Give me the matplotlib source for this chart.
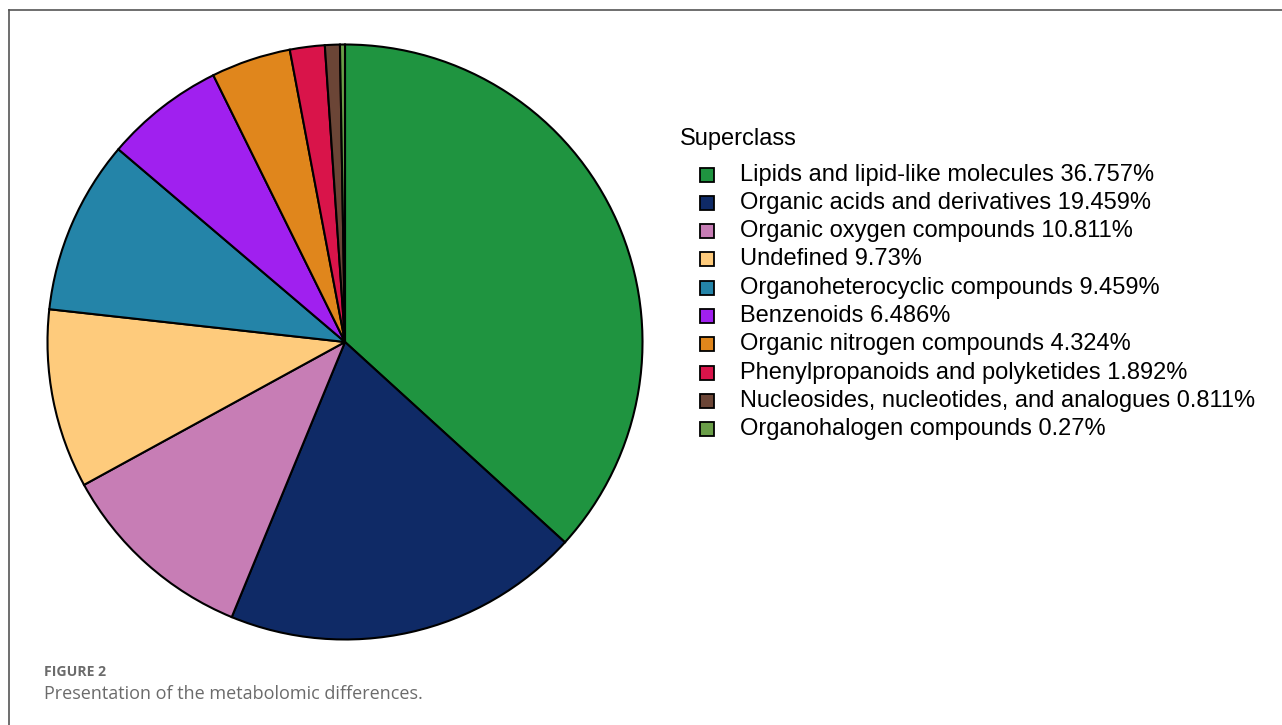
import numpy as np
import matplotlib.pyplot as plt
from matplotlib.patches import Rectangle
from matplotlib.lines import Line2D

W, H = 1282, 725

classes = ["Lipids and lipid-like molecules", "Organic acids and derivatives",
           "Organic oxygen compounds", "Undefined", "Organoheterocyclic compounds",
           "Benzenoids", "Organic nitrogen compounds", "Phenylpropanoids and polyketides",
           "Nucleosides, nucleotides, and analogues", "Organohalogen compounds"]
percent = [36.757, 19.459, 10.811, 9.73, 9.459, 6.486, 4.324, 1.892, 0.811, 0.27]
colors = ["#1f9440", "#0f2a66", "#c77db5", "#fecb7c", "#2484a8",
          "#a020ef", "#e0861c", "#d9144a", "#6b4536", "#6a9e48"]


def fx(px):
    return px / W


def fy(py):
    return 1 - py / H


fig = plt.figure(figsize=(W / 100, H / 100), dpi=100)

# frame lines along the top and left
fig.add_artist(Line2D([fx(9), 1], [fy(10), fy(10)], color="#555555", lw=1.2))
fig.add_artist(Line2D([fx(9), fx(9)], [fy(10), 0], color="#555555", lw=1.2))

# pie
cx, cy, r = 345, 342, 297.5
ax = fig.add_axes([fx(cx - r), fy(cy + r), fx(2 * r), (2 * r) / H])
ax.pie(percent, colors=colors, startangle=90, counterclock=False, radius=1,
       wedgeprops=dict(edgecolor="black", linewidth=1.5))
ax.set_xlim(-1, 1)
ax.set_ylim(-1, 1)
ax.set_aspect("equal")
ax.axis("off")

# legend
font = "Liberation Sans"
fig.text(fx(680), fy(139), "Superclass", fontsize=17, family=font, va="center", ha="left")
y0, dy = 174.5, 28.3
for i, (name, p, c) in enumerate(zip(classes, percent, colors)):
    y = y0 + i * dy
    fig.add_artist(Rectangle((fx(700), fy(y + 7)), fx(13.5), 14 / H, facecolor=c,
                             edgecolor="black", linewidth=1.3))
    fig.text(fx(740), fy(y), f"{name} {p:g}%", fontsize=17, family=font,
             va="center", ha="left")

# caption
fig.text(fx(44), fy(672), "FIGURE 2", fontsize=10.1, family="Open Sans",
         fontweight="bold", color="#6b6b6b", va="center")
fig.text(fx(44), fy(694), "Presentation of the metabolomic differences.", fontsize=13,
         family="Open Sans", color="#6b6b6b", va="center")

fig.savefig("out.png", dpi=100)
